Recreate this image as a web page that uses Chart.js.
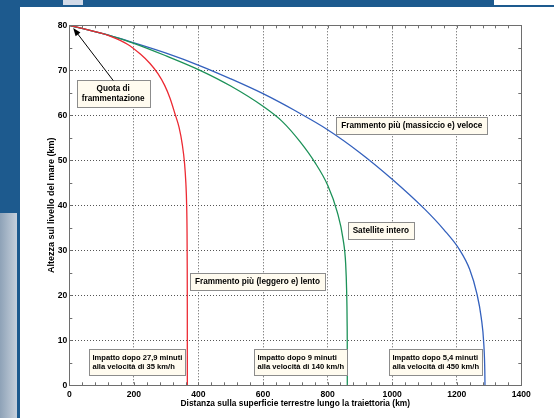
<!DOCTYPE html>
<html>
<head>
<meta charset="utf-8">
<script src="https://cdn.jsdelivr.net/npm/chart.js@4.4.0/dist/chart.umd.min.js"></script>
<style>
html, body { margin: 0; padding: 0; width: 554px; height: 418px; overflow: hidden; background: #1d5a8e; position: relative; }
.top-right { position: absolute; left: 494px; top: 0; width: 60px; height: 5px; background: #fff; }
.tab { position: absolute; left: 63px; top: 0; width: 20px; height: 5px; background: #d2dae8; }
.strip-low { position: absolute; left: 0; top: 213px; width: 17px; height: 205px; background: linear-gradient(to right, #8ea2b7, #c6d0dc); }
.page { position: absolute; left: 20px; top: 7px; right: 0; bottom: 0; background: #fff; }
canvas { position: absolute; left: 0; top: 0; }
</style>
</head>
<body>
<div class="top-right"></div>
<div class="tab"></div>
<div class="strip-low"></div>
<div class="page"></div>
<canvas id="trajChart" width="554" height="418"></canvas>
<script>
// ===== traiettorie di rientro: distanza (km) vs altezza (km) =====

const xTickValues = [0, 200, 400, 600, 800, 1000, 1200, 1400];
const yTickValues = [0, 10, 20, 30, 40, 50, 60, 70, 80];

// frammento leggero (rosso)
const redX = [0, 80, 126, 180, 220, 250, 275, 295, 312, 327, 340, 350, 357, 361, 363.5, 364.7, 365.2, 365.5, 365.6];
const redY = [80, 78.6, 77.6, 75.8, 73.6, 71.5, 69.2, 66.7, 63.8, 60.4, 57.3, 53.5, 49.3, 45, 40, 34, 27, 18, 0];

// satellite intero (verde)
const greenX = [0, 126, 200, 300, 405, 500, 600, 660, 714, 760, 800, 830, 848, 856, 859, 860.5, 861, 861.1];
const greenY = [80, 77.7, 76, 73.2, 70, 66.5, 62, 58.6, 54.2, 49.6, 44.5, 38.5, 32.5, 27, 21, 14, 7, 0];

// frammento massiccio (blu)
const blueX = [0, 126, 200, 300, 405, 500, 600, 700, 800, 900, 1000, 1100, 1160, 1210, 1240, 1262, 1276, 1284, 1287, 1287.5];
const blueY = [80, 77.7, 76.1, 73.8, 71, 68.1, 64.8, 61, 56.8, 51.7, 45.8, 39.2, 34.6, 30, 25.8, 20.5, 15, 9, 3, 0];

// etichette (testo e punto di ancoraggio in km)
const noteTexts = [
    ['Quota di', 'frammentazione'],
    ['Frammento più (massiccio e) veloce'],
    ['Satellite intero'],
    ['Frammento più (leggero e) lento'],
    ['Impatto dopo 27,9 minuti', 'alla velocità di 35 km/h'],
    ['Impatto dopo 9 minuti', 'alla velocità di 140 km/h'],
    ['Impatto dopo 5,4 minuti', 'alla velocità di 450 km/h']
];
const noteX = [136, 1061, 965, 583, 210, 716, 1135];
const noteY = [64.9, 57.7, 34.5, 23.1, 5.25, 5.25, 5.25];

// freccia verso la quota di frammentazione
const arrowTip = { x: 12, y: 79.4 };

const FONT = "'Liberation Sans', Arial, sans-serif";

function toPoints(xs, ys) {
    return xs.map((x, i) => ({ x: x, y: ys[i] }));
}

/**
 * Box with inward ticks (MATLAB style)
 */
const boxPlugin = {
    id: 'boxPlugin',
    afterDatasetsDraw(chart) {
        const { ctx, chartArea: a, scales: { x, y } } = chart;
        ctx.save();
        ctx.strokeStyle = '#6e6e6e';
        ctx.lineWidth = 1;
        ctx.beginPath();
        for (let v = 0; v <= 1400; v += 40) {
            const px = Math.round(x.getPixelForValue(v)) + 0.5;
            ctx.moveTo(px, a.bottom); ctx.lineTo(px, a.bottom - 3);
            ctx.moveTo(px, a.top); ctx.lineTo(px, a.top + 3);
        }
        for (let v = 0; v <= 80; v += 5) {
            const py = Math.round(y.getPixelForValue(v)) + 0.5;
            ctx.moveTo(a.left, py); ctx.lineTo(a.left + 3, py);
            ctx.moveTo(a.right, py); ctx.lineTo(a.right - 3, py);
        }
        ctx.stroke();
        ctx.strokeRect(Math.round(a.left) + 0.5, Math.round(a.top) + 0.5,
            Math.round(a.right - a.left), Math.round(a.bottom - a.top));
        ctx.restore();
    }
};

/**
 * Text boxes and arrow
 */
const notesPlugin = {
    id: 'notesPlugin',
    afterDraw(chart) {
        const { ctx, scales: { x, y } } = chart;
        ctx.save();
        ctx.textBaseline = 'middle';
        let firstTop = null;
        noteTexts.forEach((lines, i) => {
            // i box "Impatto" usano un carattere più piccolo, allineato a sinistra
            const small = lines[0].startsWith('Impatto');
            ctx.font = 'bold ' + (small ? 7.6 : 8.2) + 'px ' + FONT;
            const lineH = small ? 9.5 : 10;
            const cx = x.getPixelForValue(noteX[i]);
            const cy = y.getPixelForValue(noteY[i]);
            const textW = Math.max(...lines.map(l => ctx.measureText(l).width));
            const w = Math.round(textW + (small ? 6 : 10));
            const h = Math.round(lines.length * lineH + 7);
            const left = Math.round(cx - w / 2) + 0.5;
            const top = Math.round(cy - h / 2) + 0.5;
            if (i === 0) firstTop = { x: cx, y: top };
            ctx.fillStyle = '#fffbef';
            ctx.fillRect(left, top, w, h);
            ctx.strokeStyle = '#8c8c8c';
            ctx.lineWidth = 1;
            ctx.strokeRect(left, top, w, h);
            ctx.fillStyle = '#000';
            ctx.textAlign = small ? 'left' : 'center';
            const tx = small ? left + 3 : cx;
            lines.forEach((l, k) => {
                ctx.fillText(l, tx, top + 3.5 + lineH / 2 + k * lineH);
            });
        });

        // freccia
        const tx = x.getPixelForValue(arrowTip.x);
        const ty = y.getPixelForValue(arrowTip.y);
        const ang = Math.atan2(ty - firstTop.y, tx - firstTop.x);
        ctx.strokeStyle = '#000';
        ctx.fillStyle = '#000';
        ctx.lineWidth = 1;
        ctx.beginPath();
        ctx.moveTo(firstTop.x, firstTop.y);
        ctx.lineTo(tx - 4 * Math.cos(ang), ty - 4 * Math.sin(ang));
        ctx.stroke();
        ctx.beginPath();
        ctx.moveTo(tx, ty);
        ctx.lineTo(tx - 8 * Math.cos(ang) + 3 * Math.sin(ang), ty - 8 * Math.sin(ang) - 3 * Math.cos(ang));
        ctx.lineTo(tx - 8 * Math.cos(ang) - 3 * Math.sin(ang), ty - 8 * Math.sin(ang) + 3 * Math.cos(ang));
        ctx.closePath();
        ctx.fill();
        ctx.restore();
    }
};

function lineSet(label, xs, ys, color) {
    return {
        label: label,
        data: toPoints(xs, ys),
        showLine: true,
        borderColor: color,
        backgroundColor: color,
        borderWidth: 1.3,
        pointRadius: 0,
        cubicInterpolationMode: 'monotone',
        fill: false
    };
}

new Chart(document.getElementById('trajChart').getContext('2d'), {
    type: 'scatter',
    data: {
        datasets: [
            lineSet('Frammento più (leggero e) lento', redX, redY, '#ec2a33'),
            lineSet('Satellite intero', greenX, greenY, '#1c9158'),
            lineSet('Frammento più (massiccio e) veloce', blueX, blueY, '#3461bd')
        ]
    },
    options: {
        responsive: false,
        animation: false,
        layout: { padding: { left: 40, right: 32.7, top: 25.3, bottom: 8 } },
        plugins: {
            legend: { display: false },
            tooltip: { enabled: false }
        },
        scales: {
            x: {
                type: 'linear',
                min: 0,
                max: 1400,
                afterBuildTicks: s => { s.ticks = xTickValues.map(v => ({ value: v })); },
                afterFit: s => { s.height = 24.7; },
                ticks: {
                    padding: 4,
                    color: '#000',
                    callback: v => String(v),
                    font: { family: FONT, size: 8.6, weight: 'bold' }
                },
                grid: { color: '#555', drawTicks: false, lineWidth: 1 },
                border: { display: false, dash: [1, 2] },
                title: {
                    display: true,
                    text: 'Distanza sulla superficie terrestre lungo la traiettoria (km)',
                    color: '#000',
                    font: { family: FONT, size: 8.4, weight: 'bold' },
                    padding: { top: 0, bottom: 1.6 }
                }
            },
            y: {
                type: 'linear',
                min: 0,
                max: 80,
                afterBuildTicks: s => { s.ticks = yTickValues.map(v => ({ value: v })); },
                afterFit: s => { s.width = 29.3; },
                ticks: {
                    padding: 2,
                    color: '#000',
                    callback: v => String(v),
                    font: { family: FONT, size: 8.6, weight: 'bold' }
                },
                grid: { color: '#555', drawTicks: false, lineWidth: 1 },
                border: { display: false, dash: [1, 2] },
                title: {
                    display: true,
                    text: 'Altezza sul livello del mare (km)',
                    color: '#000',
                    font: { family: FONT, size: 9, weight: 'bold' },
                    padding: { top: 6, bottom: 0 }
                }
            }
        }
    },
    plugins: [boxPlugin, notesPlugin]
});
</script>
</body>
</html>
